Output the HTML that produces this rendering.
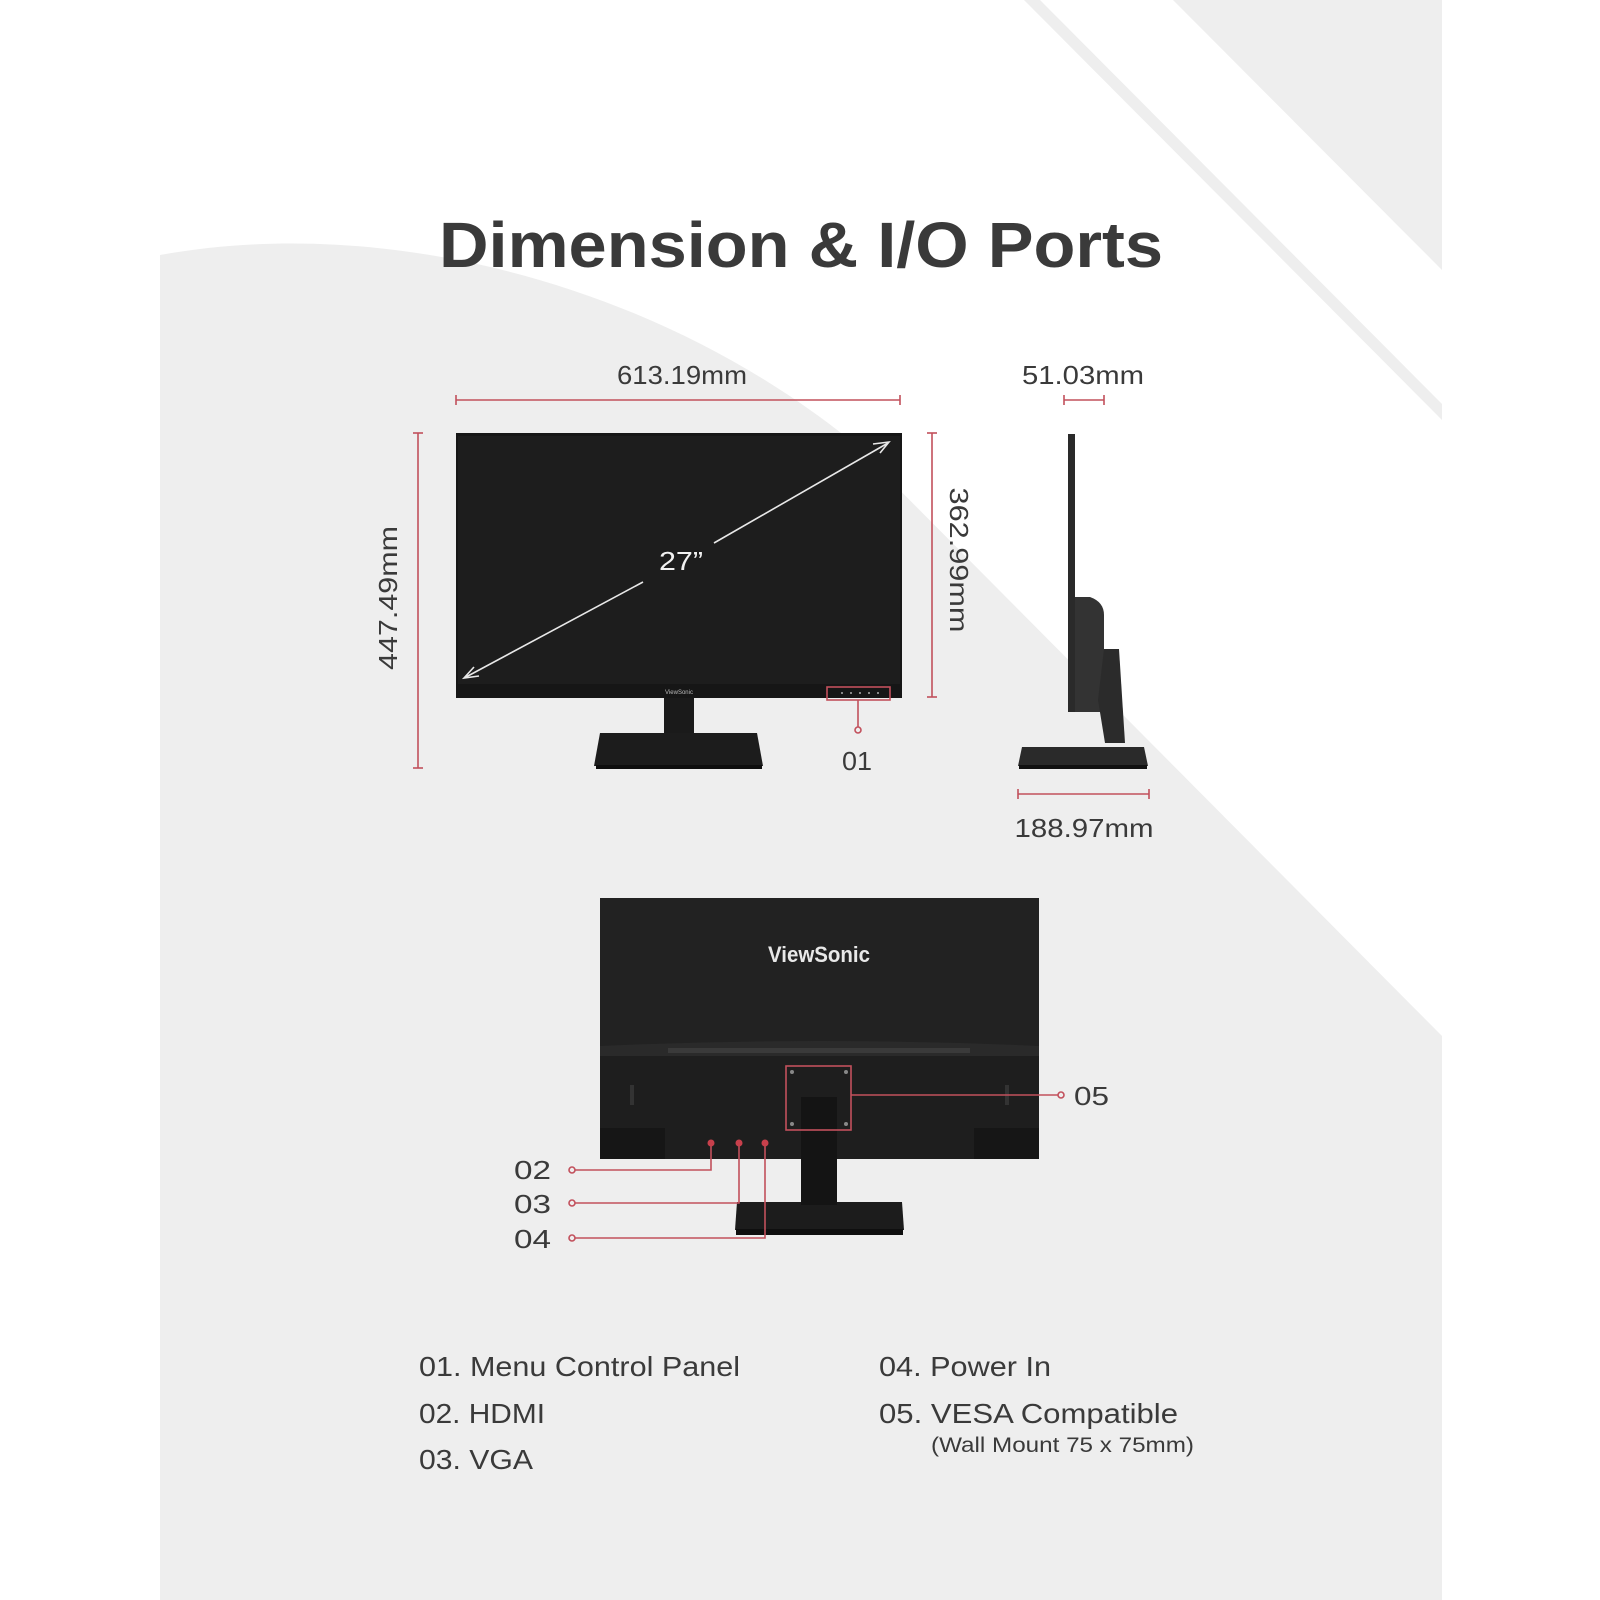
<!DOCTYPE html>
<html><head><meta charset="utf-8"><style>
html,body{margin:0;padding:0;background:#fff;}
svg{display:block;}
text{font-family:"Liberation Sans",sans-serif;}
</style></head><body>
<svg width="1600" height="1600" viewBox="0 0 1600 1600" xmlns="http://www.w3.org/2000/svg">
<rect width="1600" height="1600" fill="#fff"/>
<rect x="160" y="0" width="1282" height="1600" fill="#eeeeee"/>
<path d="M160,255 C380,215 650,280 850,440 L1442,1036 L1442,0 L160,0 Z" fill="#ffffff"/>
<polygon points="1173,0 1442,0 1442,270" fill="#eeeeee"/>
<polygon points="1024,0 1040,0 1442,404 1442,420" fill="#eeeeee"/>

<text x="801" y="267" text-anchor="middle" font-size="64" font-weight="bold" fill="#3a3a3a" textLength="724" lengthAdjust="spacingAndGlyphs">Dimension &amp; I/O Ports</text>

<g stroke="#c2505c" stroke-width="1.6" fill="none">
<line x1="456" y1="400" x2="900" y2="400"/><line x1="456" y1="395" x2="456" y2="405"/><line x1="900" y1="395" x2="900" y2="405"/>
<line x1="418" y1="433" x2="418" y2="768"/><line x1="413" y1="433" x2="423" y2="433"/><line x1="413" y1="768" x2="423" y2="768"/>
<line x1="932" y1="433" x2="932" y2="697"/><line x1="927" y1="433" x2="937" y2="433"/><line x1="927" y1="697" x2="937" y2="697"/>
<line x1="1064" y1="400" x2="1104" y2="400"/><line x1="1064" y1="395" x2="1064" y2="405"/><line x1="1104" y1="395" x2="1104" y2="405"/>
<line x1="1018" y1="794" x2="1149" y2="794"/><line x1="1018" y1="789" x2="1018" y2="799"/><line x1="1149" y1="789" x2="1149" y2="799"/>
</g>
<g font-size="26" fill="#3a3a3a">
<text x="682" y="384" text-anchor="middle" textLength="130" lengthAdjust="spacingAndGlyphs">613.19mm</text>
<text x="1083" y="384" text-anchor="middle" textLength="122" lengthAdjust="spacingAndGlyphs">51.03mm</text>
<text x="1084" y="837" text-anchor="middle" textLength="139" lengthAdjust="spacingAndGlyphs">188.97mm</text>
<text transform="translate(397,598) rotate(-90)" text-anchor="middle" textLength="144" lengthAdjust="spacingAndGlyphs">447.49mm</text>
<text transform="translate(950,560) rotate(90)" text-anchor="middle" textLength="145" lengthAdjust="spacingAndGlyphs">362.99mm</text>
</g>

<!-- front monitor -->
<rect x="456" y="433" width="446" height="265" fill="#161616"/>
<rect x="458" y="436" width="442" height="248" fill="#1d1d1d"/>
<text x="679" y="694" text-anchor="middle" font-family="Liberation Serif,serif" font-size="6" fill="#bbb">ViewSonic</text>
<g fill="#aaa"><circle cx="842" cy="693" r="1"/><circle cx="851" cy="693" r="1"/><circle cx="860" cy="693" r="1"/><circle cx="869" cy="693" r="1"/><circle cx="878" cy="693" r="1"/></g>
<rect x="664" y="698" width="30" height="38" fill="#1a1a1a"/>
<polygon points="600,733 757,733 763,766 594,766" fill="#1c1c1c"/>
<rect x="596" y="765" width="166" height="4" fill="#0e0e0e"/>
<g stroke="#e8e8e8" stroke-width="1.6" fill="none">
<line x1="466" y1="677" x2="643" y2="582"/>
<line x1="714" y1="543" x2="888" y2="443"/>
<polyline points="474,667 464,678 479,676"/>
<polyline points="873,444 889,442 880,453"/>
</g>
<text x="681" y="570" text-anchor="middle" font-size="26" fill="#f2f2f2" textLength="44" lengthAdjust="spacingAndGlyphs">27”</text>
<g stroke="#c2505c" stroke-width="1.6" fill="none">
<rect x="827" y="687" width="63" height="13"/>
<line x1="858" y1="700" x2="858" y2="727"/>
<circle cx="858" cy="730" r="3"/>
</g>
<text x="857" y="770" text-anchor="middle" font-size="26" fill="#3a3a3a" textLength="30" lengthAdjust="spacingAndGlyphs">01</text>

<!-- side view -->
<rect x="1068" y="434" width="7" height="278" fill="#2a2a2a"/>
<path d="M1075,597 L1090,597 Q1104,602 1104,615 L1104,712 L1075,712 Z" fill="#333"/>
<polygon points="1104,649 1119,649 1125,743 1105,743 1098,700" fill="#2b2b2b"/>
<polygon points="1022,747 1144,747 1148,766 1018,766" fill="#2a2a2a"/>
<rect x="1019" y="765" width="128" height="4" fill="#111"/>

<!-- back view -->
<rect x="600" y="898" width="439" height="261" fill="#1e1e1e"/>
<rect x="600" y="898" width="439" height="148" fill="#222"/>
<path d="M600,1046 Q819,1036 1039,1046 L1039,1056 L600,1056 Z" fill="#2a2a2a"/>
<rect x="668" y="1048" width="302" height="5" fill="#3a3a3a"/>
<rect x="600" y="1128" width="65" height="31" fill="#161616"/>
<rect x="974" y="1128" width="65" height="31" fill="#161616"/>
<rect x="630" y="1085" width="4" height="20" fill="#333"/>
<rect x="1005" y="1085" width="4" height="20" fill="#333"/>
<text x="819" y="962" text-anchor="middle" font-family="Liberation Serif,serif" font-weight="bold" font-size="22" fill="#e8e8e8" textLength="102" lengthAdjust="spacingAndGlyphs">ViewSonic</text>
<rect x="801" y="1097" width="36" height="125" fill="#141414"/>
<polygon points="737,1202 902,1202 904,1230 735,1230" fill="#1c1c1c"/>
<rect x="736" y="1229" width="167" height="6" fill="#0f0f0f"/>
<rect x="801" y="1201" width="36" height="4" fill="#141414"/>
<g stroke="#c2505c" stroke-width="1.6" fill="none">
<rect x="786" y="1066" width="65" height="64"/>
<line x1="851" y1="1095" x2="1058" y2="1095"/>
<circle cx="1061" cy="1095" r="3"/>
<polyline points="711,1143 711,1170 575,1170"/><circle cx="572" cy="1170" r="3"/>
<polyline points="739,1143 739,1203 575,1203"/><circle cx="572" cy="1203" r="3"/>
<polyline points="765,1143 765,1238 575,1238"/><circle cx="572" cy="1238" r="3"/>
</g>
<g fill="#c8404c"><circle cx="711" cy="1143" r="3.5"/><circle cx="739" cy="1143" r="3.5"/><circle cx="765" cy="1143" r="3.5"/></g>
<g fill="#888"><circle cx="792" cy="1072" r="2"/><circle cx="846" cy="1072" r="2"/><circle cx="792" cy="1124" r="2"/><circle cx="846" cy="1124" r="2"/></g>
<g font-size="26" fill="#3a3a3a">
<text x="1074" y="1105" textLength="35" lengthAdjust="spacingAndGlyphs">05</text>
<text x="514" y="1179" textLength="37" lengthAdjust="spacingAndGlyphs">02</text>
<text x="514" y="1213" textLength="37" lengthAdjust="spacingAndGlyphs">03</text>
<text x="514" y="1248" textLength="37" lengthAdjust="spacingAndGlyphs">04</text>
</g>

<!-- legend -->
<g font-size="28" fill="#3a3a3a">
<text x="419" y="1376" textLength="321" lengthAdjust="spacingAndGlyphs">01. Menu Control Panel</text>
<text x="419" y="1423" textLength="126" lengthAdjust="spacingAndGlyphs">02. HDMI</text>
<text x="419" y="1469" textLength="114" lengthAdjust="spacingAndGlyphs">03. VGA</text>
<text x="879" y="1376" textLength="172" lengthAdjust="spacingAndGlyphs">04. Power In</text>
<text x="879" y="1423" textLength="299" lengthAdjust="spacingAndGlyphs">05. VESA Compatible</text>
<text x="931" y="1452" font-size="21" textLength="263" lengthAdjust="spacingAndGlyphs">(Wall Mount 75 x 75mm)</text>
</g>
</svg>
</body></html>
